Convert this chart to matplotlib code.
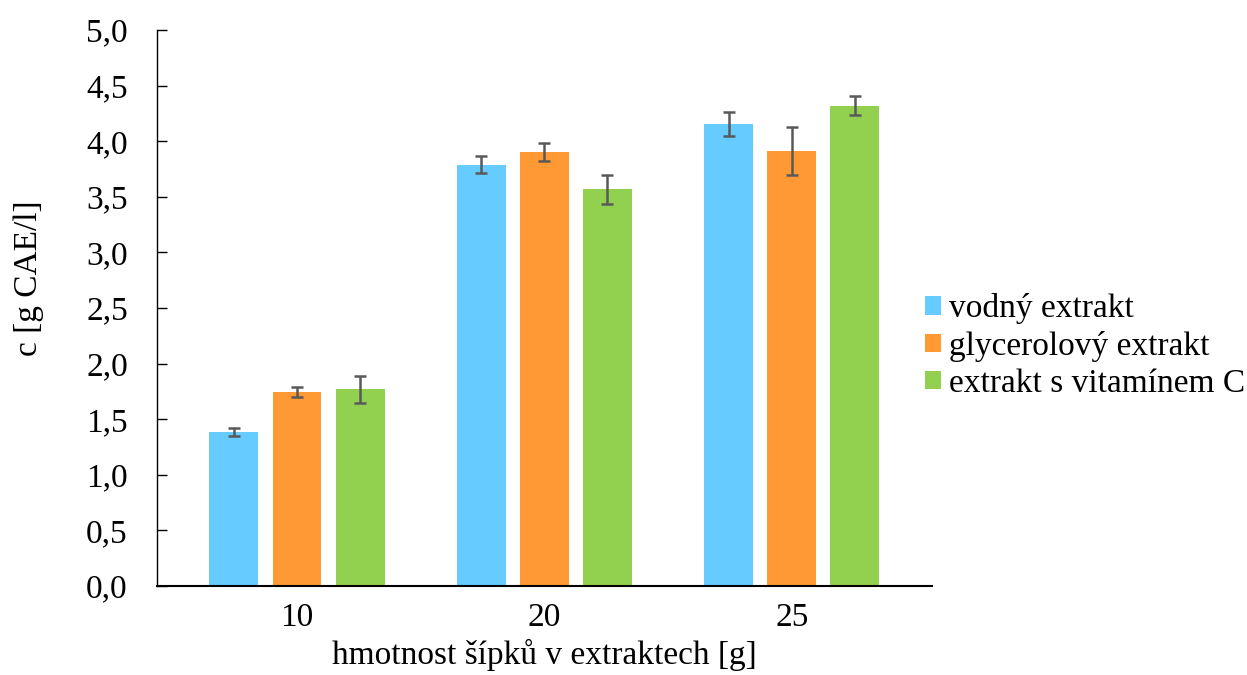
"""Total polyphenol content in rosehip extracts by rosehip mass."""

import matplotlib

matplotlib.use("Agg")
import matplotlib.pyplot as plt
import numpy as np
from matplotlib.patches import Patch

CATEGORIES = ["10", "20", "25"]
SERIES = ["vodný extrakt", "glycerolový extrakt", "extrakt s vitamínem C"]
VALUES = [
    [1.385, 3.790, 4.155],
    [1.747, 3.900, 3.910],
    [1.769, 3.567, 4.320],
]
ERRORS = [
    [0.040, 0.075, 0.108],
    [0.045, 0.080, 0.216],
    [0.123, 0.133, 0.084],
]
COLORS = ["#66CCFF", "#FF9933", "#92D050"]
Y_TICKS = [0.0, 0.5, 1.0, 1.5, 2.0, 2.5, 3.0, 3.5, 4.0, 4.5, 5.0]

plt.rcParams["font.family"] = ["Liberation Serif", "DejaVu Serif"]
FONT_SIZE = 24

figure = plt.figure(figsize=(12.47, 6.75), dpi=100)
axis = figure.add_axes([0.1259, 0.1319, 0.6215, 0.8237])

x = np.arange(len(CATEGORIES))
bar_width = 0.198
step = 0.255
for idx, (name, values, errors, color) in enumerate(zip(SERIES, VALUES, ERRORS, COLORS)):
    axis.bar(
        x + (idx - 1) * step,
        values,
        width=bar_width,
        color=color,
        label=name,
        yerr=errors,
        error_kw={"ecolor": "#595959", "elinewidth": 1.8, "capsize": 4.2, "capthick": 1.8},
    )

axis.set_xlim(-0.566, 2.567)
axis.set_ylim(0, 5)
axis.set_yticks(Y_TICKS)
axis.set_yticklabels([f"{v:.1f}".replace(".", ",") for v in Y_TICKS])
axis.set_xticks(x)
axis.set_xticklabels(CATEGORIES)
axis.tick_params(axis="y", direction="in", length=7, width=1, labelsize=FONT_SIZE, pad=21)
axis.tick_params(axis="x", length=0, labelsize=FONT_SIZE, pad=12)

for side in ["top", "right"]:
    axis.spines[side].set_visible(False)
axis.spines["left"].set_linewidth(1.0)
axis.spines["bottom"].set_linewidth(1.5)

axis.set_xlabel("hmotnost šípků v extraktech [g]", fontsize=FONT_SIZE, labelpad=4)
axis.set_ylabel("c [g CAE/l]", fontsize=FONT_SIZE)
axis.yaxis.set_label_coords(44 / 1247, 1 - 278 / 675, transform=figure.transFigure)

handles = [Patch(facecolor=c, edgecolor="none") for c in COLORS]
figure.legend(
    handles,
    SERIES,
    loc="center left",
    bbox_to_anchor=(925 / 1247, 1 - 346 / 675),
    frameon=False,
    fontsize=FONT_SIZE,
    handlelength=0.48,
    handleheight=0.48,
    handletextpad=0.25,
    labelspacing=0.2,
    borderpad=0,
    borderaxespad=0,
)

figure.savefig("out.png", dpi=100)
